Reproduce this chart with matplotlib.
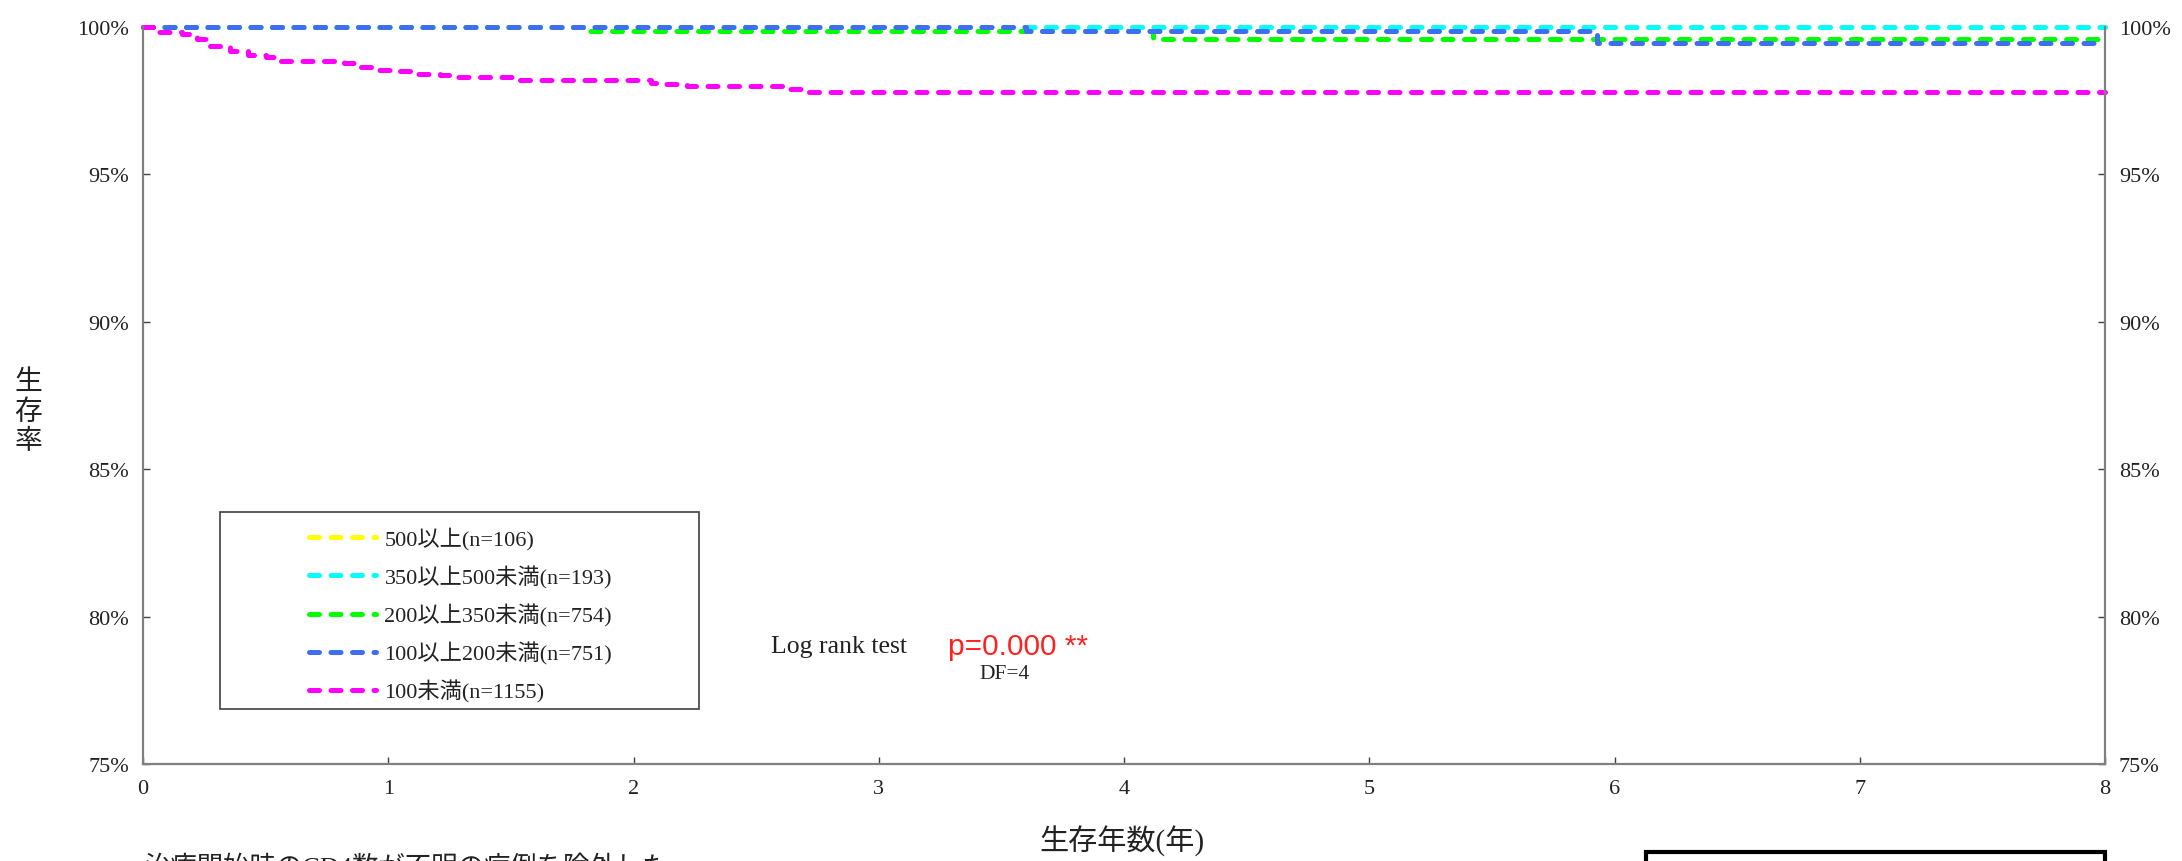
import matplotlib
matplotlib.use('Agg')
import matplotlib.pyplot as plt
from matplotlib.lines import Line2D
from matplotlib.patches import Rectangle

plt.rcParams['font.family'] = ['Liberation Serif', 'Noto Sans CJK JP']

# Kaplan-Meier step data, survival in percent
labels = ['500以上(n=106)', '350以上500未満(n=193)', '200以上350未満(n=754)',
          '100以上200未満(n=751)', '100未満(n=1155)']
colors = ['#FFFF00', '#00FFFF', '#00FF00', '#3F6FF0', '#FF00FF']

t_500 = [0, 8]
s_500 = [100, 100]
t_350 = [0, 8]
s_350 = [100, 100]
t_200 = [0, 1.80, 4.12, 8]
s_200 = [100, 99.87, 99.60, 99.60]
t_100 = [0, 3.60, 5.93, 8]
s_100 = [100, 99.87, 99.47, 99.47]
t_low = [0, 0.05, 0.16, 0.22, 0.26, 0.355, 0.43, 0.50, 0.54, 0.82, 0.885,
         0.96, 1.03, 1.10, 1.21, 1.26, 1.52, 2.07, 2.13, 2.22, 2.63, 2.69, 8]
s_low = [100, 99.83, 99.77, 99.60, 99.34, 99.18, 99.06, 98.97, 98.86, 98.78,
         98.63, 98.54, 98.50, 98.42, 98.36, 98.31, 98.20, 98.10, 98.06, 97.99,
         97.89, 97.80, 97.80]

xticks = list(range(0, 9))
yticks = [75, 80, 85, 90, 95, 100]

W, H = 2182, 862
fig = plt.figure(figsize=(W / 100, H / 100), dpi=100)
ax = fig.add_axes([143 / W, 1 - 765 / H, (2105 - 143) / W, (765 - 28) / H])

dash = dict(lw=3.6, linestyle=(0, (2.0, 2.3)), dash_capstyle='round',
            solid_capstyle='round', clip_on=False)
series = [(t_500, s_500), (t_350, s_350), (t_200, s_200), (t_100, s_100),
          (t_low, s_low)]
for (t, s), c in zip(series, colors):
    ax.step(t, s, where='post', color=c, **dash)

ax.set_xlim(0, 8)
ax.set_ylim(75, 100)
ax.set_xticks(xticks)
ax.set_xticklabels([str(v) for v in xticks])
ax.set_yticks(yticks)
ax.set_yticklabels([f'{v}%' for v in yticks])
ax.spines['top'].set_visible(False)
for side in ['left', 'right', 'bottom']:
    ax.spines[side].set_color('#808080')
    ax.spines[side].set_linewidth(1.6)
ax.tick_params(axis='both', direction='in', length=5, width=1,
               color='#404040', labelcolor='#222222', labelsize=16)
ax.tick_params(axis='y', which='both', left=True, right=True,
               labelleft=True, labelright=True, pad=10)
ax.tick_params(axis='x', pad=11)

# axis titles
fig.text(1122 / W, 1 - 841 / H, '生存年数(年)', ha='center', va='center',
         fontsize=21, color='#222222')
fig.text(28 / W, 1 - 413 / H, '生\n存\n率', ha='center', va='center',
         fontsize=20, color='#222222', linespacing=1.2)

# legend: frameless legend inside a drawn box
handles = [Line2D([0], [0], color=c, lw=3.6, linestyle=(0, (2.0, 2.3)),
                  dash_capstyle='round') for c in colors]
fig.patches.append(Rectangle((220 / W, 1 - 710 / H), (699 - 220) / W,
                             (710 - 513) / H, transform=fig.transFigure,
                             fill=False, edgecolor='#404040', lw=1.2))
leg = fig.legend(handles, labels, loc='upper left',
                 bbox_to_anchor=(300 / W, 1 - 519 / H), frameon=False,
                 fontsize=16, handlelength=3.0, handletextpad=0.4,
                 labelspacing=0.68, borderaxespad=0, labelcolor='#222222')

# log-rank test annotation
fig.text(839 / W, 1 - 647 / H, 'Log rank test', ha='center', va='center',
         fontsize=18.5, color='#222222')
fig.text(948 / W, 1 - 647 / H, 'p=0.000 **', ha='left', va='center',
         fontsize=21.5, color='#FF2020', family=['Liberation Sans'])
fig.text(1005 / W, 1 - 675 / H, 'DF=4', ha='center', va='center',
         fontsize=15.5, color='#222222')

# footnote and box running off the bottom edge
fig.text(145 / W, 1 - 855 / H, '治療開始時のCD4数が不明の症例を除外した',
         ha='left', va='top', fontsize=19, color='#222222')
fig.patches.append(Rectangle((1646 / W, -0.05), (2105 - 1646) / W,
                             0.05 + 9 / H, transform=fig.transFigure,
                             fill=False, edgecolor='black', lw=3))

fig.savefig('out.png', dpi=100, facecolor='white')
